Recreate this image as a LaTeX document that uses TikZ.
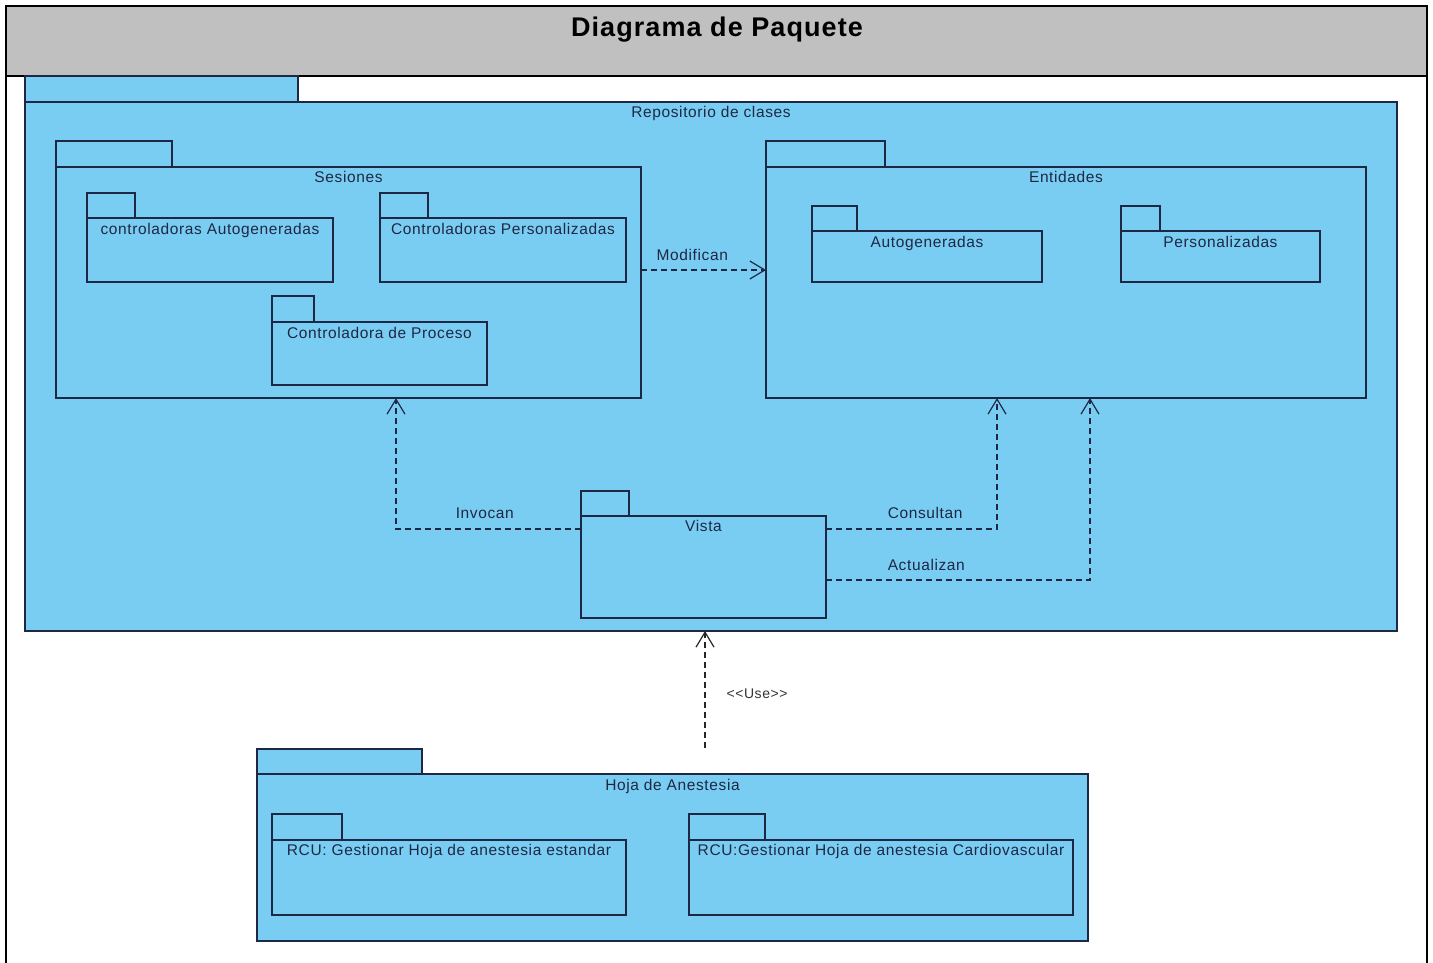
\documentclass[tikz,border=0pt]{standalone}
\usepackage{fontspec}
\setmainfont{Liberation Sans}
\newfontfamily\lblfont[LetterSpace=4]{Liberation Sans}
\usetikzlibrary{arrows.meta,positioning,calc}
\definecolor{pkgblue}{RGB}{122,205,242}
\definecolor{pkgline}{RGB}{30,40,68}
\definecolor{bandgray}{RGB}{192,192,192}
\tikzset{
  frame/.style={draw=black, line width=2.5pt},
  titleband/.style={rectangle, draw=black, fill=bandgray, line width=2.5pt, inner sep=0pt, outer sep=0pt, anchor=north west},
  pkg/.style={rectangle, draw=pkgline, fill=pkgblue, line width=1.2pt, inner sep=0pt, outer sep=0pt, anchor=north west},
  pkgtab/.style={pkg, minimum height=26pt},
  pkgname/.style={anchor=base, font=\lblfont\fontsize{15.5}{18}\selectfont, text=pkgline, inner sep=0pt},
  dep/.style={-{Straight Barb[length=15pt,width=18pt]}, dash pattern=on 6pt off 4pt, line width=1.2pt, draw=pkgline},
  deplabel/.style={anchor=base, font=\lblfont\fontsize{15.5}{18}\selectfont, text=pkgline, inner sep=0pt},
}

\begin{document}
\begin{tikzpicture}[x=1pt, y=-1pt]
  \useasboundingbox (0,0) rectangle (1433,962);

  % Frame and title
  \draw[frame] (6,990) -- (6,6) -- (1427,6) -- (1427,990);
  \node[titleband, minimum width=1421pt, minimum height=70pt] (band) at (6,6) {};
  \node[font=\lblfont\bfseries\fontsize{27}{30}\selectfont, anchor=base] (title) at (717,36) {Diagrama de Paquete};

  % Repositorio de clases
  \node[pkg, minimum width=1372pt, minimum height=529pt] (repo) at (25,102) {};
  \node[pkgtab, minimum width=273pt, above right=0pt of repo.north west] (repotab) {};
  \node[pkgname] (reponame) at ($(repo.north)+(0,15)$) {Repositorio de clases};

  % Sesiones
  \node[pkg, minimum width=585pt, minimum height=231pt] (ses) at (56,167) {};
  \node[pkgtab, minimum width=116pt, above right=0pt of ses.north west] (sestab) {};
  \node[pkgname] (sesname) at ($(ses.north)+(0,15)$) {Sesiones};

  \node[pkg, minimum width=246pt, minimum height=64pt] (ctrlauto) at (87,218) {};
  \node[pkgtab, minimum height=25pt, minimum width=48pt, above right=0pt of ctrlauto.north west] (ctrlautotab) {};
  \node[pkgname] (ctrlautoname) at ($(ctrlauto.north)+(0,16)$) {controladoras Autogeneradas};

  \node[pkg, minimum width=246pt, minimum height=64pt] (ctrlpers) at (380,218) {};
  \node[pkgtab, minimum height=25pt, minimum width=48pt, above right=0pt of ctrlpers.north west] (ctrlperstab) {};
  \node[pkgname] (ctrlpersname) at ($(ctrlpers.north)+(0,16)$) {Controladoras Personalizadas};

  \node[pkg, minimum width=215pt, minimum height=63pt] (ctrlproc) at (272,322) {};
  \node[pkgtab, minimum width=42pt, above right=0pt of ctrlproc.north west] (ctrlproctab) {};
  \node[pkgname] (ctrlprocname) at ($(ctrlproc.north)+(0,16)$) {Controladora de Proceso};

  % Entidades
  \node[pkg, minimum width=600pt, minimum height=231pt] (ent) at (766,167) {};
  \node[pkgtab, minimum width=119pt, above right=0pt of ent.north west] (enttab) {};
  \node[pkgname] (entname) at ($(ent.north)+(0,15)$) {Entidades};

  \node[pkg, minimum width=230pt, minimum height=51pt] (entauto) at (812,231) {};
  \node[pkgtab, minimum height=25pt, minimum width=45pt, above right=0pt of entauto.north west] (entautotab) {};
  \node[pkgname] (entautoname) at ($(entauto.north)+(0,16)$) {Autogeneradas};

  \node[pkg, minimum width=199pt, minimum height=51pt] (entpers) at (1121,231) {};
  \node[pkgtab, minimum height=25pt, minimum width=39pt, above right=0pt of entpers.north west] (entperstab) {};
  \node[pkgname] (entpersname) at ($(entpers.north)+(0,16)$) {Personalizadas};

  % Vista
  \node[pkg, minimum width=245pt, minimum height=102pt] (vista) at (581,516) {};
  \node[pkgtab, minimum height=25pt, minimum width=48pt, above right=0pt of vista.north west] (vistatab) {};
  \node[pkgname] (vistaname) at ($(vista.north)+(0,15)$) {Vista};

  % Hoja de Anestesia
  \node[pkg, minimum width=831pt, minimum height=167pt] (hoja) at (257,774) {};
  \node[pkgtab, minimum width=165pt, minimum height=25pt, above right=0pt of hoja.north west] (hojatab) {};
  \node[pkgname] (hojaname) at ($(hoja.north)+(0,16)$) {Hoja de Anestesia};

  \node[pkg, minimum width=354pt, minimum height=75pt] (rcuest) at (272,840) {};
  \node[pkgtab, minimum width=70pt, above right=0pt of rcuest.north west] (rcuesttab) {};
  \node[pkgname] (rcuestname) at ($(rcuest.north)+(0,15)$) {RCU: Gestionar Hoja de anestesia estandar};

  \node[pkg, minimum width=384pt, minimum height=75pt] (rcucard) at (689,840) {};
  \node[pkgtab, minimum width=76pt, above right=0pt of rcucard.north west] (rcucardtab) {};
  \node[pkgname] (rcucardname) at ($(rcucard.north)+(0,15)$) {RCU:Gestionar Hoja de anestesia Cardiovascular};

  % Dependencies
  \draw[dep] ($(ses.north east)+(0,103)$) -- ($(ent.north west)+(0,103)$)
    node[deplabel, pos=.41, yshift=9.5pt] {Modifican};
  \draw[dep] ($(vista.north west)+(0,13)$) -| ($(ses.south west)+(340,0)$)
    node[deplabel, pos=.26, yshift=10.5pt] {Invocan};
  \draw[dep] ($(vista.north east)+(0,13)$) -| ($(ent.south west)+(231,0)$)
    node[deplabel, pos=.29, yshift=10.5pt] {Consultan};
  \draw[dep] ($(vista.north east)+(0,64)$) -| ($(ent.south west)+(324,0)$)
    node[deplabel, pos=.19, yshift=9.5pt] {Actualizan};

  \coordinate (usefoot) at (705,748);
  \draw[dep, draw=black!85] (usefoot) -- (usefoot |- repo.south)
    node[deplabel, text=black!80, font=\lblfont\fontsize{14}{16}\selectfont, anchor=base west, pos=.5, xshift=21pt, yshift=-9pt] {<<Use>>};
\end{tikzpicture}
\end{document}
